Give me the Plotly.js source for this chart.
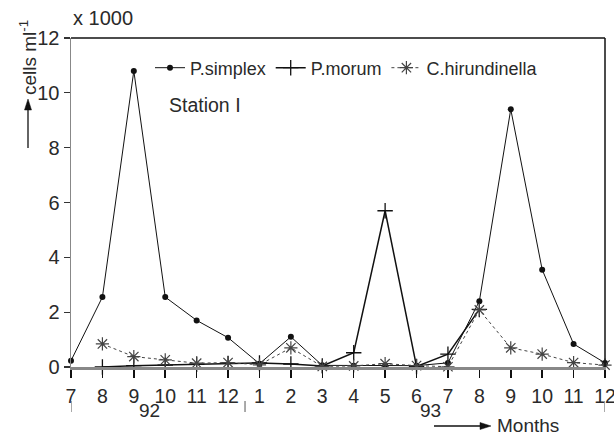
<!DOCTYPE html>
<html><head><meta charset="utf-8">
<script src="https://cdn.plot.ly/plotly-3.0.1.min.js"></script>
<style>html,body{margin:0;padding:0;background:#fff}#chart{width:614px;height:435px}</style>
</head><body><div id="chart"></div>
<script>
// Months Jul 1992 .. Dec 1993
const monthLabels = ['7','8','9','10','11','12','1','2','3','4','5','6','7','8','9','10','11','12'];
const monthIndex = [0,1,2,3,4,5,6,7,8,9,10,11,12,13,14,15,16,17];
// cells ml-1 (x 1000)
const pSimplex = [0.23,2.55,10.8,2.55,1.7,1.07,0.12,1.1,0.06,0.05,0.05,0.05,0.15,2.4,9.4,3.55,0.84,0.15];
const pMorum = [null,0.0,0.05,0.07,0.1,0.13,0.15,0.11,0.04,0.52,5.7,0.02,0.47,2.1,null,null,null,null];
const cHirundinella = [null,0.84,0.38,0.26,0.14,0.16,0.08,0.7,0.02,0.04,0.12,0.05,0.01,2.08,0.7,0.47,0.16,0.07];
const yearLabels = ['92','93'];

// layout geometry (pixels)
const W = 614, H = 435, L = 71, R = 9, T = 38, B = 68;
const pw = W - L - R, ph = H - T - B;
const px = v => (v - L) / pw;          // pixel x -> paper
const py = v => (H - B - v) / ph;      // pixel y -> paper

const font = 'Liberation Sans, Arial, sans-serif';
const tc = '#2a2a2a';
const traces = [
  {x: monthIndex, y: pSimplex, name: 'P.simplex', mode: 'lines+markers',
   line: {color: '#111', width: 1}, marker: {symbol: 'circle', size: 6, color: '#111'}, cliponaxis: false},
  {x: monthIndex, y: pMorum, name: 'P.morum', mode: 'lines+markers',
   line: {color: '#111', width: 1.5}, marker: {symbol: 'cross-thin', size: 11, line: {color: '#111', width: 1.3}}, cliponaxis: false},
  {x: monthIndex, y: cHirundinella, name: 'C.hirundinella', mode: 'lines+markers',
   line: {color: '#444', width: 1, dash: 'dot'}, marker: {symbol: 'asterisk-open', size: 11, line: {color: '#333', width: 1.2}}, cliponaxis: false}
];

const shapes = [
  {type:'line', xref:'paper', yref:'paper', x0:0, x1:1, y0:1, y1:1, line:{color:'#111', width:1.5}},
  {type:'line', xref:'paper', yref:'paper', x0:1, x1:1, y0:0, y1:1, line:{color:'#111', width:1.5}},
  // vertical arrow next to y title
  {type:'line', xref:'paper', yref:'paper', x0:px(28), x1:px(28), y0:py(148), y1:py(108), line:{color:'#111', width:1.3}},
  {type:'path', xref:'paper', yref:'paper', path:`M ${px(24.5)} ${py(110)} L ${px(31.5)} ${py(110)} L ${px(28)} ${py(99)} Z`, fillcolor:'#111', line:{color:'#111', width:0.5}},
  // Months arrow
  {type:'line', xref:'paper', yref:'paper', x0:px(434), x1:px(482), y0:py(426), y1:py(426), line:{color:'#111', width:1.3}},
  {type:'path', xref:'paper', yref:'paper', path:`M ${px(480)} ${py(422.5)} L ${px(480)} ${py(429.5)} L ${px(491)} ${py(426)} Z`, fillcolor:'#111', line:{color:'#111', width:0.5}}
];
// year separators
[0, 5.54, 17].forEach(v => shapes.push({type:'line', xref:'x', yref:'paper', x0:v, x1:v, y0:py(401), y1:py(412), line:{color:'#555', width:1}}));

const annotations = [
  {xref:'paper', yref:'paper', x:px(71), y:py(18), xanchor:'left', yanchor:'middle', text:'x 1000', showarrow:false, font:{family:font, size:20, color:tc}},
  {xref:'paper', yref:'paper', x:px(28), y:py(58), xanchor:'center', yanchor:'middle', textangle:-90, text:'cells ml<sup>-1</sup>', showarrow:false, font:{family:font, size:19, color:tc}},
  {xref:'paper', yref:'paper', x:px(167), y:py(105), xanchor:'left', yanchor:'middle', text:'Station I', showarrow:false, font:{family:font, size:19.5, color:tc}},
  {xref:'paper', yref:'paper', x:px(495), y:py(425), xanchor:'left', yanchor:'middle', text:'Months', showarrow:false, font:{family:font, size:19, color:tc}},
  {xref:'x', yref:'paper', x:2.5, y:py(410), xanchor:'center', yanchor:'middle', text:yearLabels[0], showarrow:false, font:{family:font, size:19, color:tc}},
  {xref:'x', yref:'paper', x:11.45, y:py(410), xanchor:'center', yanchor:'middle', text:yearLabels[1], showarrow:false, font:{family:font, size:19, color:tc}}
];

const layout = {
  width: W, height: H,
  margin: {l:L, r:R, t:T, b:B},
  paper_bgcolor:'#fff', plot_bgcolor:'#fff',
  showlegend: true,
  legend: {orientation:'h', x:px(150), y:py(68), xanchor:'left', yanchor:'middle', font:{family:font, size:18, color:tc}, bgcolor:'rgba(0,0,0,0)', itemwidth:30, tracegroupgap:0},
  xaxis: {range:[0,17], tickvals: monthIndex, ticktext: monthLabels, showgrid:false, zeroline:false,
          showline:true, linecolor:'#888', linewidth:2.5, ticks:'outside', ticklen:8, tickcolor:'#111', tickwidth:1.5,
          ticklabelstandoff:2, ticklabeloverflow:'allow', tickfont:{family:font, size:19.5, color:tc}},
  yaxis: {range:[0,12], tickvals:[0,2,4,6,8,10,12], showgrid:false, zeroline:false,
          showline:true, linecolor:'#888', linewidth:1.5, ticks:'outside', ticklen:6, tickcolor:'#333', tickwidth:1.2,
          tickfont:{family:font, size:20, color:tc}},
  shapes: shapes,
  annotations: annotations
};
Plotly.newPlot('chart', traces, layout, {displayModeBar:false, staticPlot:true});
</script></body></html>
